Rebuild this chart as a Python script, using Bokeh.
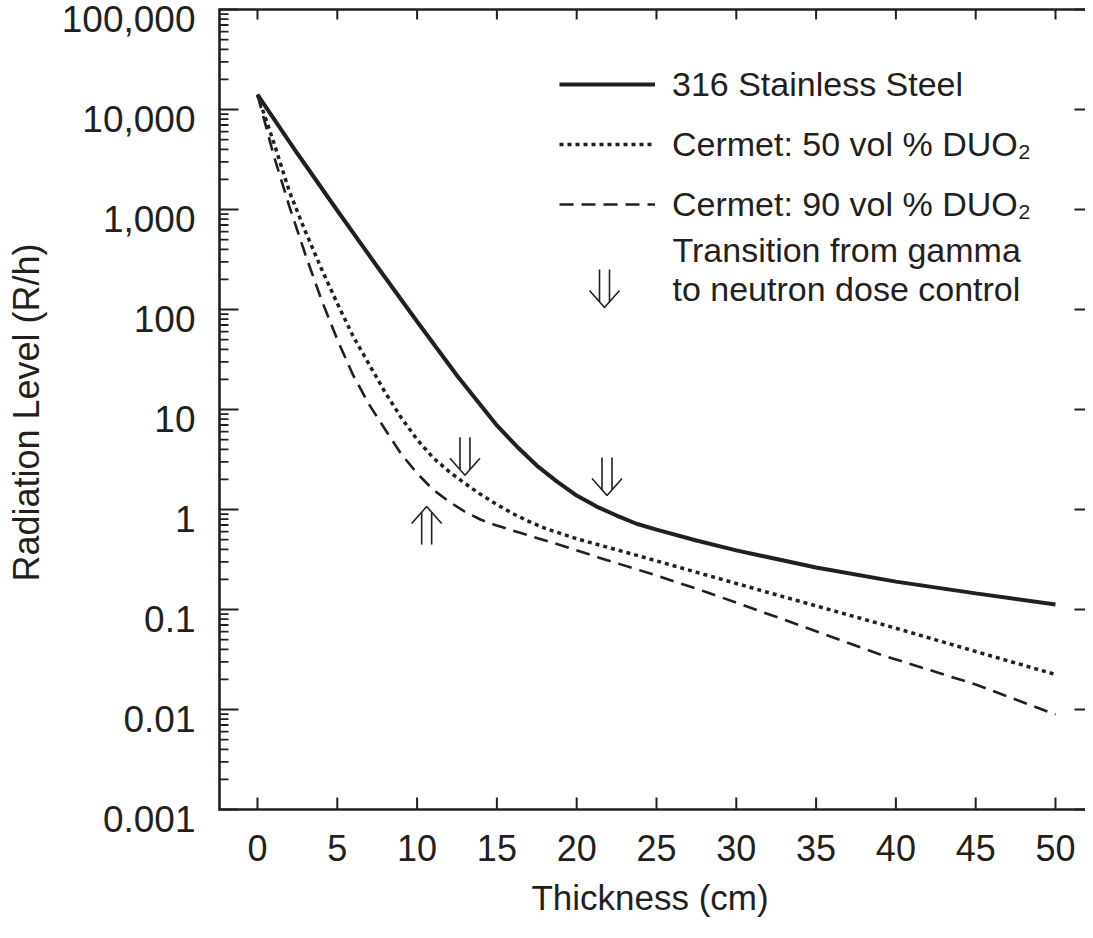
import math
from bokeh.plotting import figure
from bokeh.models import (Range1d, LogScale, LogAxis, LinearAxis, FixedTicker,
                          Legend, LegendItem, Label, CustomJSTickFormatter)
from bokeh.embed import file_html
from bokeh.resources import INLINE

# ---------------- data ----------------
thickness_steel = [0, 2.5, 5, 7.5, 10, 12.5, 15, 16.25, 17.5, 18.75, 20, 21.25, 22.5,
                   23.75, 25, 27.5, 30, 35, 40, 45, 50]
level_steel = [14100, 3630, 977, 269, 75.9, 21.9, 6.92, 4.27, 2.75, 1.91, 1.38, 1.07,
               0.87, 0.72, 0.63, 0.49, 0.39, 0.263, 0.19, 0.145, 0.112]

thickness_c50 = [0, 1, 2, 3, 4, 5, 6, 7, 8, 9, 10, 11, 12, 13, 14, 15, 16, 17, 18,
                 20, 24, 28, 32, 36, 40, 45, 50]
level_c50 = [14100, 4790, 1510, 603, 257, 115, 53.7, 28.2, 14.8, 8.3, 5.0, 3.3, 2.4, 1.82,
             1.41, 1.12, 0.91, 0.76, 0.65, 0.51, 0.34, 0.224, 0.148, 0.098, 0.065, 0.038,
             0.0224]

thickness_c90 = [0, 1, 2, 3, 4, 5, 6, 7, 8, 9, 10, 11, 12, 13, 14, 15, 17, 19, 21.4,
                 25, 28.2, 33, 39.2, 45, 50]
level_c90 = [14100, 3550, 1070, 355, 126, 50, 21.9, 11.2, 6.3, 3.6, 2.3, 1.58, 1.2, 0.95,
             0.79, 0.69, 0.55, 0.44, 0.33, 0.219, 0.148, 0.079, 0.0347, 0.0178, 0.0089]

series_names = ["316 Stainless Steel", "Cermet: 50 vol % DUO\u2082", "Cermet: 90 vol % DUO\u2082"]

x_ticks = [0, 5, 10, 15, 20, 25, 30, 35, 40, 45, 50]
y_ticks = [0.001, 0.01, 0.1, 1, 10, 100, 1000, 10000, 100000]
y_tick_labels = ["0.001", "0.01", "0.1", "1", "10", "100", "1,000", "10,000", "100,000"]

# transition markers (arrow tip positions)
arrow_x = [13.0, 21.9, 10.6]
arrow_y = [2.2, 1.38, 1.07]
arrow_dir = ["down", "down", "up"]
legend_arrow_text = ["Transition from gamma", "to neutron dose control"]

x_title = "Thickness (cm)"
y_title = "Radiation Level (R/h)"

# ---------------- layout constants ----------------
INK = "#231f20"
FONT = "Liberation Sans"
W, H = 1085, 922
B_LEFT, B_TOP, B_BOTTOM = 214, 6, 104
FRAME_W = W - B_LEFT
FRAME_H = H - B_TOP - B_BOTTOM
PAD_LEFT, PAD_TOP, PAD_BOTTOM = 5, 3, 9      # px between frame edge and drawn spines
X_MIN, X_MAX = -2.38, 51.88                 # x extent from left spine to right frame edge
Y_MIN, Y_MAX = 1e-3, 1e5                    # y extent of the drawn box
PX_PER_CM = (FRAME_W - PAD_LEFT) / (X_MAX - X_MIN)
PX_PER_DECADE = (FRAME_H - PAD_TOP - PAD_BOTTOM) / math.log10(Y_MAX / Y_MIN)
X_START = X_MIN - PAD_LEFT / PX_PER_CM
Y_START = Y_MIN * 10 ** (-PAD_BOTTOM / PX_PER_DECADE)
Y_END = Y_MAX * 10 ** (PAD_TOP / PX_PER_DECADE)


def dx(px):
    """data x at px screen pixels right of the left spine"""
    return X_MIN + px / PX_PER_CM


def dy(px):
    """data y at px screen pixels below the top spine"""
    return Y_MAX * 10 ** (-px / PX_PER_DECADE)


p = figure(width=W, height=H, output_backend="svg", toolbar_location=None,
           x_range=Range1d(X_START, X_MAX), y_range=Range1d(Y_START, Y_END),
           y_axis_type="log", x_axis_location=None, y_axis_location=None,
           min_border_left=B_LEFT, min_border_right=0, min_border_top=B_TOP,
           min_border_bottom=B_BOTTOM, outline_line_color=None,
           background_fill_color="white", border_fill_color="white")
for g in p.grid:
    g.visible = False

# ---- y axis labels: own range, shifted so labels sit a few px below their ticks ----
LABEL_SHIFT = 9
shift = 10 ** (LABEL_SHIFT / PX_PER_DECADE)
p.extra_y_ranges = {"lab": Range1d(Y_START * shift * (1 - 1e-9), Y_END * shift)}
p.extra_y_scales = {"lab": LogScale()}
fmt = CustomJSTickFormatter(args=dict(tvals=y_ticks, tlabels=y_tick_labels), code="""
    let best = 0, bd = Infinity;
    for (let i = 0; i < tvals.length; i++) {
        const d = Math.abs(Math.log10(tick) - Math.log10(tvals[i]));
        if (d < bd) { bd = d; best = i; }
    }
    return tlabels[best];
""")
label_axis = LogAxis(y_range_name="lab",
                     ticker=FixedTicker(ticks=y_ticks, minor_ticks=[]), formatter=fmt,
                     axis_line_color=None, major_tick_line_color=None,
                     minor_tick_line_color=None, major_tick_in=0, major_tick_out=0,
                     minor_tick_in=0, minor_tick_out=0, major_label_standoff=19,
                     major_label_text_font=FONT, major_label_text_font_size="37px",
                     major_label_text_color=INK,
                     axis_label=y_title, axis_label_text_font=FONT,
                     axis_label_text_font_size="36px", axis_label_text_font_style="normal",
                     axis_label_text_color=INK, axis_label_standoff=12)
p.add_layout(label_axis, "left")

# ---- x axis (labels + title); its line and ticks are drawn at the spine below ----
bottom_axis = LinearAxis(ticker=FixedTicker(ticks=x_ticks, minor_ticks=[]),
                         axis_line_color=None, major_tick_line_color=None,
                         minor_tick_line_color=None, major_tick_in=0, major_tick_out=0,
                         minor_tick_in=0, minor_tick_out=0,
                         major_label_standoff=25 - PAD_BOTTOM, major_label_text_font=FONT,
                         major_label_text_font_size="36px", major_label_text_color=INK,
                         axis_label=x_title, axis_label_text_font=FONT,
                         axis_label_text_font_size="35px", axis_label_text_font_style="normal",
                         axis_label_text_color=INK, axis_label_standoff=14)
p.add_layout(bottom_axis, "below")

# ---- box spines (top, left, bottom) and inward ticks ----
p.line([X_MAX, X_MIN, X_MIN, X_MAX], [Y_MAX, Y_MAX, Y_MIN, Y_MIN], line_color=INK,
       line_width=2.6, line_join="miter")

minor = [m * 10.0 ** k for k in range(-3, 5) for m in range(2, 10)]
MAJ_IN, MIN_IN, TOP_IN, BOT_IN, RIGHT_IN = 19, 9, 10, 12, 11
p.segment(x0=[X_MIN] * len(y_ticks), x1=[dx(MAJ_IN)] * len(y_ticks),
          y0=y_ticks, y1=y_ticks, line_color=INK, line_width=2)
p.segment(x0=[X_MIN] * len(minor), x1=[dx(MIN_IN)] * len(minor),
          y0=minor, y1=minor, line_color=INK, line_width=1.8)
p.segment(x0=[X_MAX - RIGHT_IN / PX_PER_CM] * len(y_ticks), x1=[X_MAX] * len(y_ticks),
          y0=y_ticks, y1=y_ticks, line_color=INK, line_width=2)
p.segment(x0=x_ticks, x1=x_ticks, y0=[Y_MAX] * len(x_ticks),
          y1=[dy(TOP_IN)] * len(x_ticks), line_color=INK, line_width=2)
p.segment(x0=x_ticks, x1=x_ticks, y0=[Y_MIN] * len(x_ticks),
          y1=[Y_MIN * 10 ** (BOT_IN / PX_PER_DECADE)] * len(x_ticks),
          line_color=INK, line_width=2)

# ---- curves ----
r1 = p.line(thickness_steel, level_steel, line_color=INK, line_width=4)
r2 = p.line(thickness_c50, level_c50, line_color=INK, line_width=3.5, line_dash="4 4")
r3 = p.line(thickness_c90, level_c90, line_color=INK, line_width=2.6, line_dash="14 8")

# ---- transition arrows ----
A_LEN, A_HEAD_H, A_HEAD_W, A_SHAFT = 38, 17, 15, 5


def arrow_paths(tx, ty, direction):
    up = 1 if direction == "down" else -1

    def X(px):
        return tx + px / PX_PER_CM

    def Y(px):
        return ty * 10 ** (up * px / PX_PER_DECADE)

    join = A_HEAD_H * A_SHAFT / A_HEAD_W
    xs = [[X(-A_HEAD_W), X(0), X(A_HEAD_W)],
          [X(-A_SHAFT), X(-A_SHAFT)],
          [X(A_SHAFT), X(A_SHAFT)]]
    ys = [[Y(A_HEAD_H), Y(0), Y(A_HEAD_H)],
          [Y(join), Y(A_LEN)],
          [Y(join), Y(A_LEN)]]
    return xs, ys


axs, ays = [], []
for tx, ty, d in zip(arrow_x, arrow_y, arrow_dir):
    xs, ys = arrow_paths(tx, ty, d)
    axs += xs
    ays += ys
# legend arrow
xs, ys = arrow_paths(dx(385), dy(298), "down")
axs += xs
ays += ys
p.multi_line(axs, ays, line_color=INK, line_width=1.6)

# ---- legend ----
legend = Legend(items=[LegendItem(label=series_names[0], renderers=[r1]),
                       LegendItem(label=series_names[1], renderers=[r2]),
                       LegendItem(label=series_names[2], renderers=[r3])],
                location=(340 + PAD_LEFT, 585 + PAD_BOTTOM), orientation="vertical",
                glyph_width=96, glyph_height=40, label_height=40, label_standoff=17,
                spacing=20, padding=0, margin=0, border_line_color=None,
                background_fill_alpha=0, label_text_font=FONT,
                label_text_font_size="34px", label_text_color=INK)
p.add_layout(legend, "center")

for txt, d in zip(legend_arrow_text, [240, 279]):
    p.add_layout(Label(x=dx(453), y=dy(d), text=txt, text_font=FONT,
                       text_font_size="34px", text_color=INK,
                       text_baseline="middle", text_align="left"))

open("out.html", "w").write(file_html(p, INLINE))
